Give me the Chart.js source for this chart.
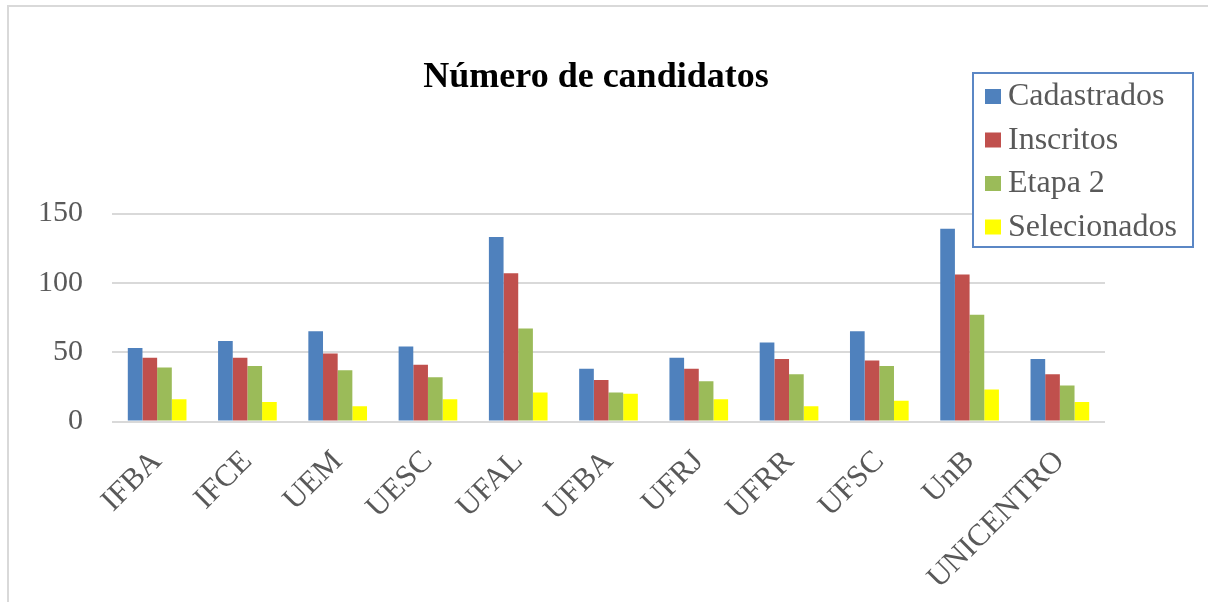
<!DOCTYPE html>
<html>
<head>
<meta charset="utf-8">
<script src="https://cdn.jsdelivr.net/npm/chart.js@4/dist/chart.umd.min.js"></script>
<style>
  html, body { margin: 0; padding: 0; background: #fff; }
  #wrap { position: relative; width: 1208px; height: 602px; }
</style>
</head>
<body>
<div id="wrap"><canvas id="chart" width="1208" height="602"></canvas></div>
<script>
// Número de candidatos por instituição
const categories   = ['IFBA', 'IFCE', 'UEM', 'UESC', 'UFAL', 'UFBA', 'UFRJ', 'UFRR', 'UFSC', 'UnB', 'UNICENTRO'];
const cadastrados  = [53, 58, 65, 54, 133, 38, 46, 57, 65, 139, 45];
const inscritos    = [46, 46, 49, 41, 107, 30, 38, 45, 44, 106, 34];
const etapa2       = [39, 40, 37, 32, 67, 21, 29, 34, 40, 77, 26];
const selecionados = [16, 14, 11, 16, 21, 20, 16, 11, 15, 23, 14];
const yTicks       = [0, 50, 100, 150];
const chartTitle   = 'Número de candidatos';

const SERIF = '"Times New Roman", "Liberation Serif", serif';
const GREY  = '#595959';

const seriesDefs = [
    { label: 'Cadastrados',  data: cadastrados,  color: '#4F81BD' },
    { label: 'Inscritos',    data: inscritos,    color: '#C0504D' },
    { label: 'Etapa 2',      data: etapa2,       color: '#9BBB59' },
    { label: 'Selecionados', data: selecionados, color: '#FFFF00' },
];

// outer frame (left + top edges only, like the cropped original) and title
const framePlugin = {
    id: 'frame',
    beforeDraw(chart) {
        const ctx = chart.ctx;
        ctx.save();
        ctx.strokeStyle = '#d9d9d9';
        ctx.lineWidth = 2;
        ctx.beginPath();
        ctx.moveTo(8, 602);
        ctx.lineTo(8, 6);
        ctx.lineTo(1208, 6);
        ctx.stroke();

        // title centred on the whole chart box, not the plot
        ctx.fillStyle = '#000';
        ctx.font = 'bold 36px ' + SERIF;
        ctx.textAlign = 'center';
        ctx.textBaseline = 'middle';
        ctx.fillText(chartTitle, 596, 78);
        ctx.restore();
    },
};

// boxed legend floating over the plot's top-right corner
const boxLegend = {
    id: 'boxLegend',
    afterDraw(chart) {
        const ctx = chart.ctx;
        const x0 = 973, y0 = 73, w = 220, h = 174;
        ctx.save();
        ctx.fillStyle = '#fff';
        ctx.fillRect(x0, y0, w, h);
        ctx.strokeStyle = '#5B87C5';
        ctx.lineWidth = 2;
        ctx.strokeRect(x0, y0, w, h);
        ctx.font = '32px ' + SERIF;
        ctx.textBaseline = 'middle';
        chart.data.datasets.forEach((ds, i) => {
            const cy = 96 + i * 43.5;
            ctx.fillStyle = ds.backgroundColor;
            ctx.fillRect(985, cy - 7, 16, 15);
            ctx.fillStyle = GREY;
            ctx.fillText(ds.label, 1008, cy + 1);
        });
        ctx.restore();
    },
};

new Chart(document.getElementById('chart'), {
    type: 'bar',
    data: {
        labels: categories,
        datasets: seriesDefs.map(s => ({
            label: s.label,
            data: s.data,
            backgroundColor: s.color,
            borderWidth: 0,
            categoryPercentage: 0.65,
            barPercentage: 1.0,
        })),
    },
    options: {
        responsive: false,
        animation: false,
        layout: { padding: { left: 0, right: 103, top: 213.5, bottom: 0 } },
        plugins: {
            legend: { display: false },
            tooltip: { enabled: false },
            title: { display: false },
        },
        scales: {
            x: {
                grid: { display: false, drawTicks: false },
                border: { display: false },
                ticks: {
                    color: GREY,
                    font: { family: SERIF, size: 31 },
                    minRotation: 45,
                    maxRotation: 45,
                    padding: 22,
                    autoSkip: false,
                },
                afterFit(scale) { scale.height = 180.5; },
            },
            y: {
                min: 0,
                max: 150,
                afterBuildTicks(scale) { scale.ticks = yTicks.map(v => ({ value: v })); },
                grid: { color: '#d9d9d9', lineWidth: 2, drawTicks: false },
                border: { display: false },
                ticks: {
                    color: GREY,
                    font: { family: SERIF, size: 30 },
                    padding: 29,
                },
                afterFit(scale) { scale.width = 112; },
            },
        },
    },
    plugins: [framePlugin, boxLegend],
});
</script>
</body>
</html>
